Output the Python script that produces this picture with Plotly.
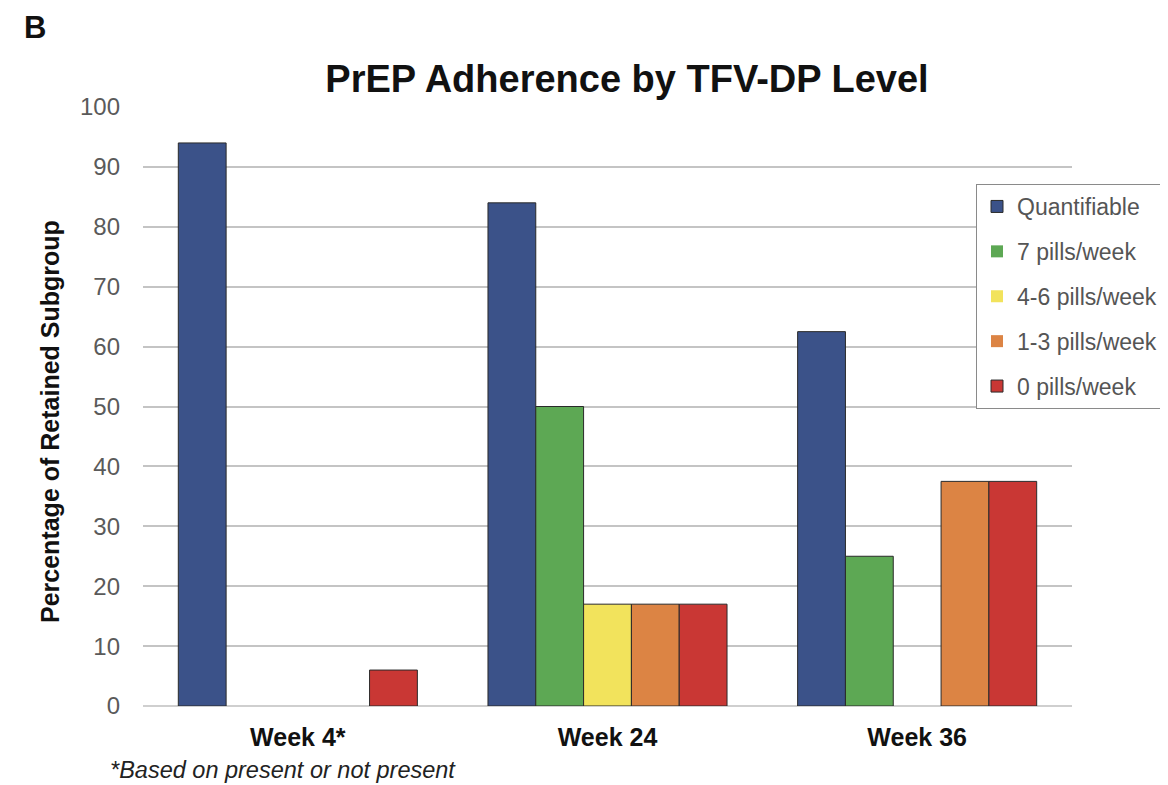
import plotly.graph_objects as go

categories = ["Week 4*", "Week 24", "Week 36"]
series_names = ["Quantifiable", "7 pills/week", "4-6 pills/week", "1-3 pills/week", "0 pills/week"]
quantifiable = [94, 84, 62.5]
pills_7 = [0, 50, 25]
pills_4_6 = [0, 17, 0]
pills_1_3 = [0, 17, 37.5]
pills_0 = [6, 17, 37.5]
y_ticks = [0, 10, 20, 30, 40, 50, 60, 70, 80, 90, 100]

series_values = [quantifiable, pills_7, pills_4_6, pills_1_3, pills_0]
colors = ["#3B5289", "#5DA854", "#F2E35C", "#DC8444", "#C93734"]

FONT = "Liberation Sans, Arial, Helvetica, sans-serif"

fig = go.Figure()
for i, (name, vals, col) in enumerate(zip(series_names, series_values, colors)):
    fig.add_trace(go.Bar(
        x=categories, y=vals, name=name,
        marker=dict(color=col, line=dict(color="#2a2a2a", width=[1 if v > 0 else 0 for v in vals])),
        legendgroup=f"g{i}",
    ))

# page offset (body margin of the html page)
OFF = 8
W, H = 1168, 785
# target plot area in page pixels
PL, PR, PT, PB = 143, 1072, 107, 706
L, T = PL - OFF, PT - OFF
R, B = W - (PR - OFF), H - (PB - OFF)
pw, ph = PR - PL, PB - PT


def px(xp):
    return (xp - PL) / pw


def py(yp):
    return (PB - yp) / ph


fig.update_layout(
    width=W, height=H,
    margin=dict(l=L, r=R, t=T, b=B, autoexpand=False),
    paper_bgcolor="white", plot_bgcolor="white",
    barmode="group", bargap=0.228, bargroupgap=0,
    font=dict(family=FONT),
    title=dict(text="<b>PrEP Adherence by TFV-DP Level</b>", x=(627 - OFF) / W, xanchor="center",
               y=1 - (79 - OFF) / H, yanchor="middle", font=dict(size=38, color="#111")),
    legend=dict(
        x=px(976), xanchor="left", y=py(184), yanchor="top",
        bordercolor="#8a8a8a", borderwidth=1, bgcolor="white",
        font=dict(size=23, color="#555555", family=FONT),
        traceorder="grouped", tracegroupgap=12, itemwidth=30,
    ),
    xaxis=dict(
        tickfont=dict(size=25, color="#111", family=FONT), showline=False,
        ticks="", ticklabelstandoff=14,
        tickvals=categories, ticktext=[f"<b>{c}</b>" for c in categories],
    ),
    yaxis=dict(
        range=[0, 100], tickvals=y_ticks, showgrid=True, gridcolor="#C4C4C4", gridwidth=1.5,
        zeroline=True, zerolinecolor="#CFCFCF", zerolinewidth=1.5,
        tickfont=dict(size=24, color="#5a5a5a", family=FONT), ticks="", ticklabelstandoff=22,
    ),
    showlegend=True,
)

fig.add_annotation(text="<b>Percentage of Retained Subgroup</b>", textangle=-90,
                   xref="paper", yref="paper", x=px(50), y=py(422),
                   xanchor="center", yanchor="middle", showarrow=False,
                   font=dict(size=25, color="#111", family=FONT))
fig.add_annotation(text="<b>B</b>", xref="paper", yref="paper",
                   x=px(22), y=py(27), xanchor="left", yanchor="middle",
                   showarrow=False, font=dict(size=31, color="#111", family=FONT))
fig.add_annotation(text="<i>*Based on present or not present</i>", xref="paper", yref="paper",
                   x=px(108), y=py(770), xanchor="left", yanchor="middle",
                   showarrow=False, font=dict(size=23.5, color="#222", family=FONT))

fig.write_html("out.html")
